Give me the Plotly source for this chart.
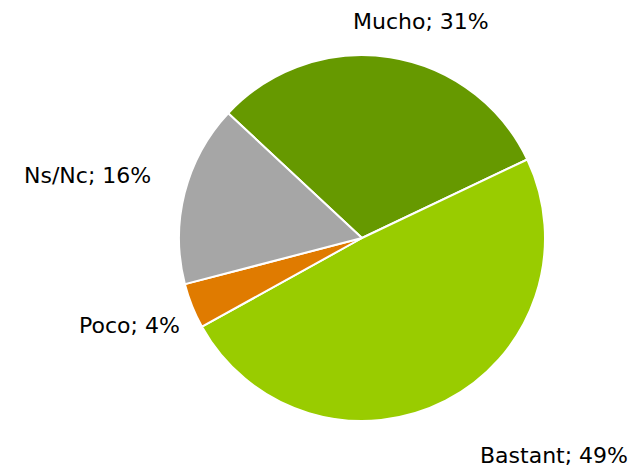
import plotly.graph_objects as go

labels = ["Mucho", "Bastant", "Poco", "Ns/Nc"]
values = [31, 49, 4, 16]
colors = ["#669900", "#99CC00", "#E07B00", "#A6A6A6"]
# label anchor positions in pixels (x from left, y from top)
label_pos = [(421, 22), (554, 455), (129, 325), (87, 175)]

W, H = 636, 470
cx, cy, r = 362, 238, 183

fig = go.Figure(go.Pie(
    labels=labels, values=values, sort=False, direction="clockwise",
    rotation=-47,
    marker=dict(colors=colors, line=dict(color="white", width=2)),
    textinfo="none", hoverinfo="label+percent", showlegend=False,
    domain=dict(x=[(cx - r) / W, (cx + r) / W], y=[(H - cy - r) / H, (H - cy + r) / H]),
))

total = sum(values)
for lab, v, (px, py) in zip(labels, values, label_pos):
    fig.add_annotation(
        x=px / W, y=1 - py / H, xref="paper", yref="paper",
        text=f"{lab}; {round(100 * v / total)}%", showarrow=False,
        font=dict(family="DejaVu Sans", size=22, color="#000000"),
        xanchor="center", yanchor="middle",
    )

fig.update_layout(
    width=W, height=H, margin=dict(l=0, r=0, t=0, b=0),
    paper_bgcolor="white", plot_bgcolor="white",
)
fig.write_html("out.html", config={"displayModeBar": False},
               post_script="document.body.style.margin='0';")
